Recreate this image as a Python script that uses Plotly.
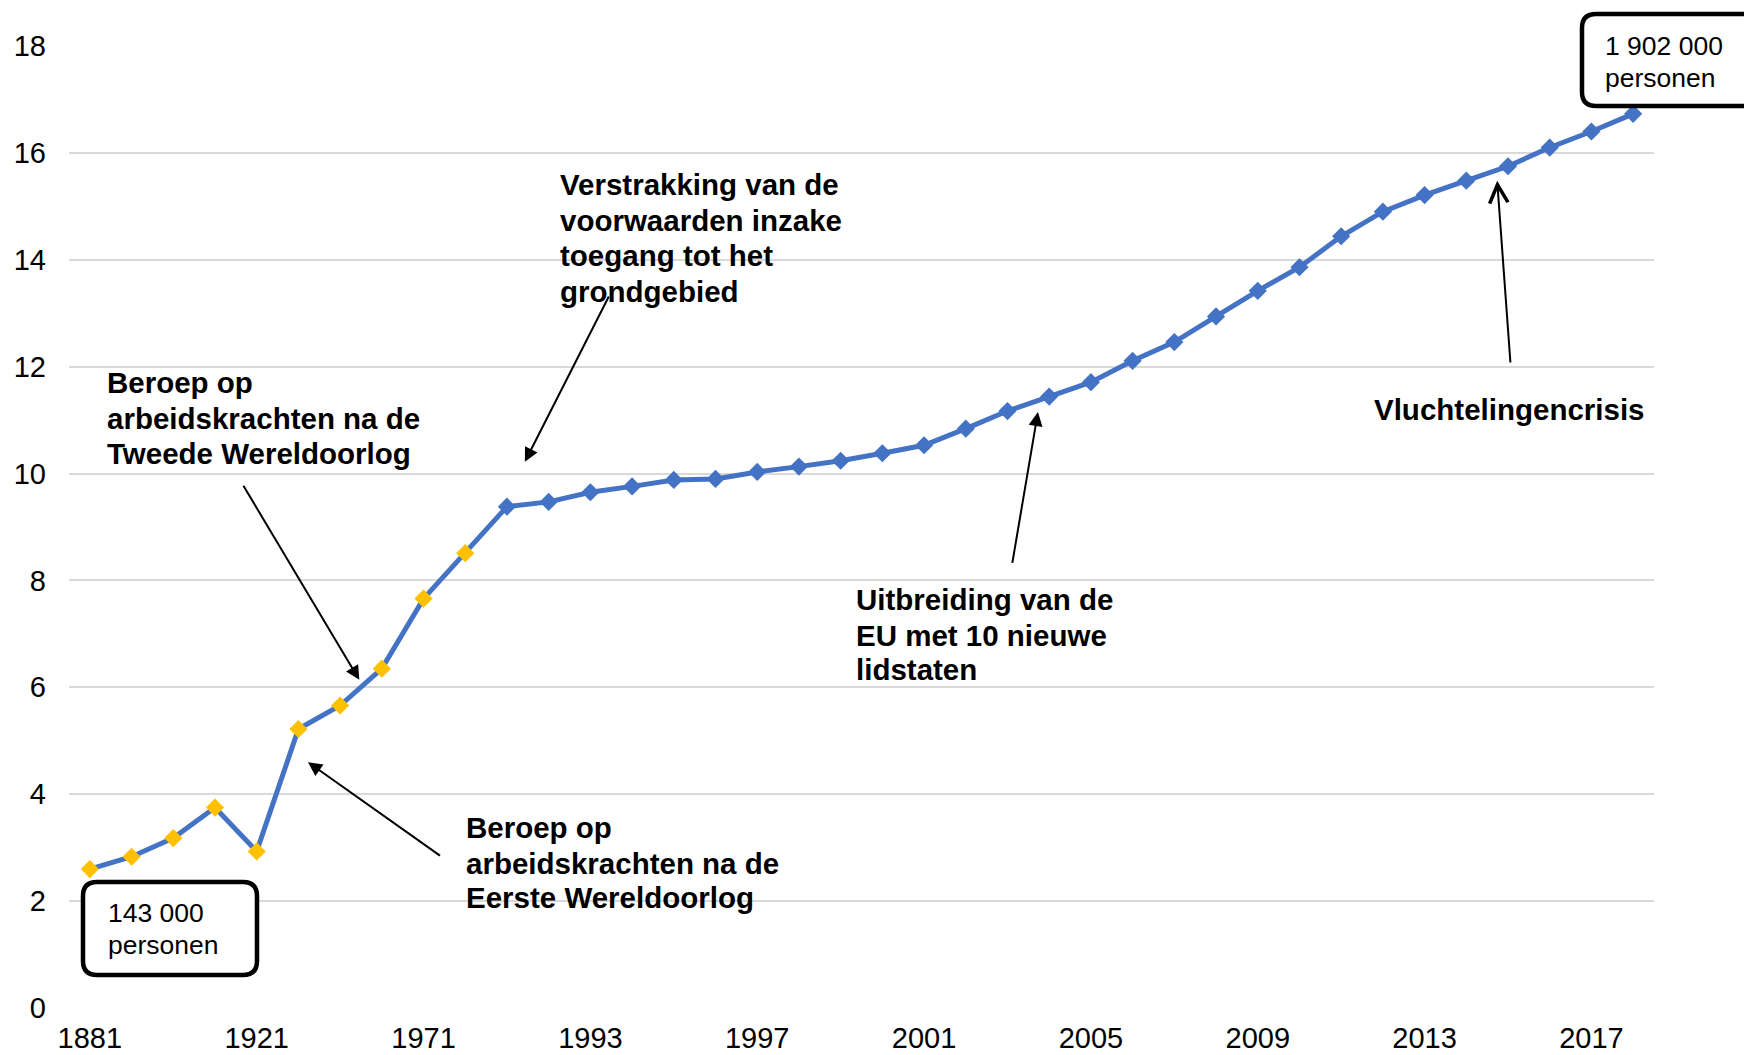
import plotly.graph_objects as go

# ---- data ----
years = ["1881", "1890", "1900", "1910", "1921", "1930", "1947", "1961", "1971", "1981",
         "1991", "1992", "1993", "1994", "1995", "1996", "1997", "1998", "1999", "2000",
         "2001", "2002", "2003", "2004", "2005", "2006", "2007", "2008", "2009", "2010",
         "2011", "2012", "2013", "2014", "2015", "2016", "2017", "2018"]
share = [2.60, 2.83, 3.18, 3.75, 2.93, 5.22, 5.66, 6.35, 7.66, 8.51,
         9.38, 9.47, 9.65, 9.76, 9.88, 9.90, 10.03, 10.13, 10.24, 10.38,
         10.53, 10.84, 11.17, 11.44, 11.71, 12.11, 12.46, 12.94, 13.42, 13.86,
         14.44, 14.90, 15.21, 15.48, 15.75, 16.10, 16.40, 16.73]
census_until = 1981  # yellow markers up to this year
tick_years = years[0:37:4]
y_ticks = [0, 2, 4, 6, 8, 10, 12, 14, 16, 18]

BLUE = "#4472C4"
YELLOW = "#FFC000"
FONT = "Liberation Sans, Arial, sans-serif"

marker_colors = [YELLOW if int(y) <= census_until else BLUE for y in years]

fig = go.Figure()
fig.add_trace(go.Scatter(
    x=years, y=share, mode="lines+markers",
    line=dict(color=BLUE, width=5),
    marker=dict(symbol="diamond", size=14, color=marker_colors, line=dict(width=0)),
    showlegend=False, hoverinfo="x+y",
))

W, H = 1744, 1055
L, R, T, B = 69, 90, 46, 47
pw, ph = W - L - R, H - T - B
S = 1744 / 1568  # reference measurement scale

def px_to_paper(px, py):
    return (px - L) / pw, (H - B - py) / ph

annotations = []

def add_lines(lines, left, centers, size, bold):
    for line, cy in zip(lines, centers):
        xp, yp = px_to_paper(left * S, cy * S)
        annotations.append(dict(text=f"<b>{line}</b>" if bold else line,
                                x=xp, y=yp, xref="paper", yref="paper",
                                xanchor="left", yanchor="middle", align="left",
                                showarrow=False, borderpad=0,
                                font=dict(family=FONT, size=size, color="black")))

# ---- text annotations (lines, left edge, line centres measured on the reference) ----
add_lines(["Verstrakking van de", "voorwaarden inzake", "toegang tot het", "grondgebied"],
          503, [166, 198, 230, 262], 29.5, True)
add_lines(["Beroep op", "arbeidskrachten na de", "Tweede Wereldoorlog"],
          95, [344, 376, 408], 29.5, True)
add_lines(["Beroep op", "arbeidskrachten na de", "Eerste Wereldoorlog"],
          418, [744, 776, 807], 29.5, True)
add_lines(["Uitbreiding van de", "EU met 10 nieuwe", "lidstaten"],
          769, [539, 571, 602], 29.5, True)
add_lines(["Vluchtelingencrisis"], 1234, [368], 29.5, True)

# ---- arrows (tail -> head) in data coordinates ----
arrows = [
    ((12.46, 13.34), (10.43, 10.22), 2, 1.4),
    ((3.66, 9.80), (6.46, 6.14), 2, 1.4),
    ((8.43, 2.83), (5.23, 4.60), 2, 1.4),
    ((22.11, 8.30), (22.73, 11.15), 2, 1.4),
    ((34.06, 12.05), (33.74, 15.48), 5, 1.8),
]
for (tx, ty), (hx, hy), head, asz in arrows:
    annotations.append(dict(text="", x=hx, y=hy, xref="x", yref="y",
                            ax=tx, ay=ty, axref="x", ayref="y",
                            showarrow=True, arrowhead=head, arrowsize=asz,
                            arrowwidth=2, arrowcolor="black", standoff=0, startstandoff=0))

# ---- boxes with values ----
boxes = [
    (["143 000", "personen"], (83, 882, 257, 975), 96, [821, 850]),
    (["1 902 000", "personen"], (1582, 14, 1775, 106), 1442, [41, 70]),
]
shapes = []
for lines, (x0, y0, x1, y1), left, centers in boxes:
    r = 14
    def P(px, py):
        a, b = px_to_paper(px, py)
        return f"{a:.5f},{b:.5f}"
    path = (f"M {P(x0 + r, y0)} L {P(x1 - r, y0)} Q {P(x1, y0)} {P(x1, y0 + r)} "
            f"L {P(x1, y1 - r)} Q {P(x1, y1)} {P(x1 - r, y1)} "
            f"L {P(x0 + r, y1)} Q {P(x0, y1)} {P(x0, y1 - r)} "
            f"L {P(x0, y0 + r)} Q {P(x0, y0)} {P(x0 + r, y0)} Z")
    shapes.append(dict(type="path", path=path, xref="paper", yref="paper",
                       line=dict(color="black", width=4.5), fillcolor="white", layer="above"))
    add_lines(lines, left, centers, 26.5, False)

fig.update_layout(
    width=W, height=H,
    margin=dict(l=L, r=R, t=T, b=B, pad=0, autoexpand=False),
    paper_bgcolor="white", plot_bgcolor="white",
    font=dict(family=FONT, color="black"),
    xaxis=dict(type="category", range=[-0.5, len(years) - 0.5],
               tickmode="array", tickvals=tick_years, ticktext=tick_years,
               showgrid=False, zeroline=False, showline=False, ticks="",
               automargin=False,
               tickfont=dict(family=FONT, size=29, color="black"), ticklabelstandoff=10),
    yaxis=dict(range=[0, 18], tickmode="array", tickvals=y_ticks,
               showgrid=True, gridcolor="#D9D9D9", gridwidth=2,
               zeroline=False, showline=False, ticks="", automargin=False,
               tickfont=dict(family=FONT, size=29, color="black"), ticklabelstandoff=22),
    annotations=annotations,
    shapes=shapes,
)

fig.write_html("out.html", include_plotlyjs=True, config={"displayModeBar": False},
               post_script="document.body.style.margin='0';document.body.style.overflow='hidden';")
